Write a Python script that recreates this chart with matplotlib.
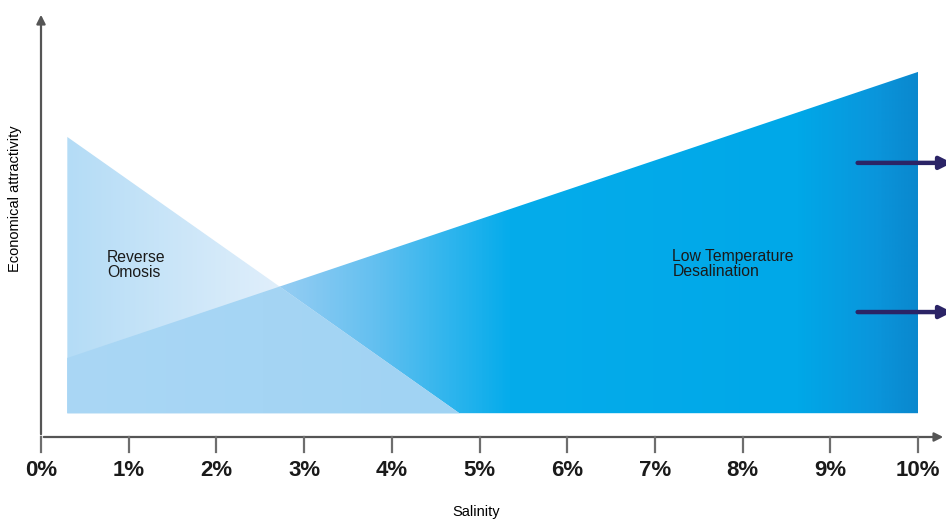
import matplotlib
matplotlib.use('Agg')
import matplotlib.pyplot as plt
import numpy as np
from matplotlib.colors import LinearSegmentedColormap
from matplotlib.patches import Polygon

plt.rcParams['font.family'] = ['Liberation Sans', 'DejaVu Sans']

# data
salinity_ticks = [0, 1, 2, 3, 4, 5, 6, 7, 8, 9, 10]
tick_labels = [f"{t}%" for t in salinity_ticks]

base = 0.056
ro_x = [0.3, 0.3, 4.77]
ro_y = [base, 0.706, base]
ltd_x = [0.3, 0.3, 10.0, 10.0]
ltd_y = [base, 0.186, 0.859, base]
arrow_start = 9.28
arrow_y = [0.645, 0.294]

labels = ["Reverse\nOmosis", "Low Temperature\nDesalination"]
label_x = [0.75, 7.2]
label_y = [0.44, 0.443]


def line_cross(x1, y1, x2, y2, x3, y3, x4, y4):
    m1 = (y2 - y1) / (x2 - x1)
    m2 = (y4 - y3) / (x4 - x3)
    x = (y3 - y1 + m1 * x1 - m2 * x3) / (m1 - m2)
    return x, y1 + m1 * (x - x1)


cx, cy = line_cross(ro_x[1], ro_y[1], ro_x[2], ro_y[2], ltd_x[1], ltd_y[1], ltd_x[2], ltd_y[2])
overlap = [(ro_x[0], base), (ltd_x[1], ltd_y[1]), (cx, cy), (ro_x[2], base)]

fig = plt.figure(figsize=(9.46, 5.2), dpi=100)
ax = fig.add_axes([41 / 946, 83 / 520, 905 / 946, 425 / 520])
ax.set_xlim(0, 905 / 87.7)
ax.set_ylim(0, 1)
ax.axis('off')


def grad_fill(xs, ys, cmap, x0, x1, z):
    poly = Polygon(list(zip(xs, ys)), closed=True, facecolor='none', edgecolor='none')
    ax.add_patch(poly)
    g = np.linspace(0, 1, 512).reshape(1, -1)
    im = ax.imshow(g, cmap=cmap, extent=[x0, x1, 0, 1], aspect='auto', zorder=z,
                   interpolation='bilinear')
    im.set_clip_path(poly)


ltd_cmap = LinearSegmentedColormap.from_list('ltd', [
    (0.0, (168/255, 214/255, 245/255)),
    (0.25, (150/255, 205/255, 243/255)),
    (0.36, (100/255, 192/255, 240/255)),
    (0.52, (5/255, 172/255, 235/255)),
    (0.86, (0/255, 168/255, 232/255)),
    (0.95, (10/255, 150/255, 220/255)),
    (1.0, (10/255, 136/255, 206/255)),
])
ro_cmap = LinearSegmentedColormap.from_list('ro', [
    (0.0, (180/255, 220/255, 246/255)),
    (0.55, (225/255, 239/255, 251/255)),
    (1.0, (235/255, 245/255, 252/255)),
])
ov_cmap = LinearSegmentedColormap.from_list('ov', [
    (0.0, (170/255, 215/255, 245/255)),
    (1.0, (160/255, 211/255, 243/255)),
])

grad_fill(ltd_x, ltd_y, ltd_cmap, ltd_x[0], ltd_x[2], 1)
grad_fill(ro_x, ro_y, ro_cmap, ro_x[0], ro_x[2], 2)
ox, oy = zip(*overlap)
grad_fill(ox, oy, ov_cmap, ro_x[0], ro_x[2], 3)

# axes with arrows
axis_col = '#6e6e6e'
ax.annotate('', xy=(905 / 87.7, 0), xytext=(0, 0),
            arrowprops=dict(arrowstyle='-|>', color='#555555', lw=1.6, mutation_scale=13),
            annotation_clip=False, zorder=5)
ax.annotate('', xy=(0, 1.0), xytext=(0, 0),
            arrowprops=dict(arrowstyle='-|>', color='#555555', lw=1.6, mutation_scale=13),
            annotation_clip=False, zorder=5)

for t, lab in zip(salinity_ticks, tick_labels):
    ax.plot([t, t], [0, -0.036], color=axis_col, lw=1.6, clip_on=False, zorder=5)
    ax.text(t, -0.08, lab, ha='center', va='center', fontsize=16, fontweight='bold',
            color='#1a1a1a')

for lab, lx, ly in zip(labels, label_x, label_y):
    ax.text(lx, ly, lab, ha='left', va='top', fontsize=11.3, color='#1a1a1a',
            linespacing=1.0, zorder=6)

for ay in arrow_y:
    ax.annotate('', xy=(10.42, ay), xytext=(arrow_start, ay),
                arrowprops=dict(arrowstyle='-|>', color='#2b2466', lw=3.2, mutation_scale=18),
                annotation_clip=False, zorder=6)

fig.text(476 / 946, 1 - 512 / 520, "Salinity", ha='center', va='center', fontsize=10.5)
fig.text(15 / 946, 1 - 199 / 520, "Economical attractivity", ha='center', va='center',
         rotation=90, fontsize=10.5)

fig.savefig('out.png', dpi=100)
